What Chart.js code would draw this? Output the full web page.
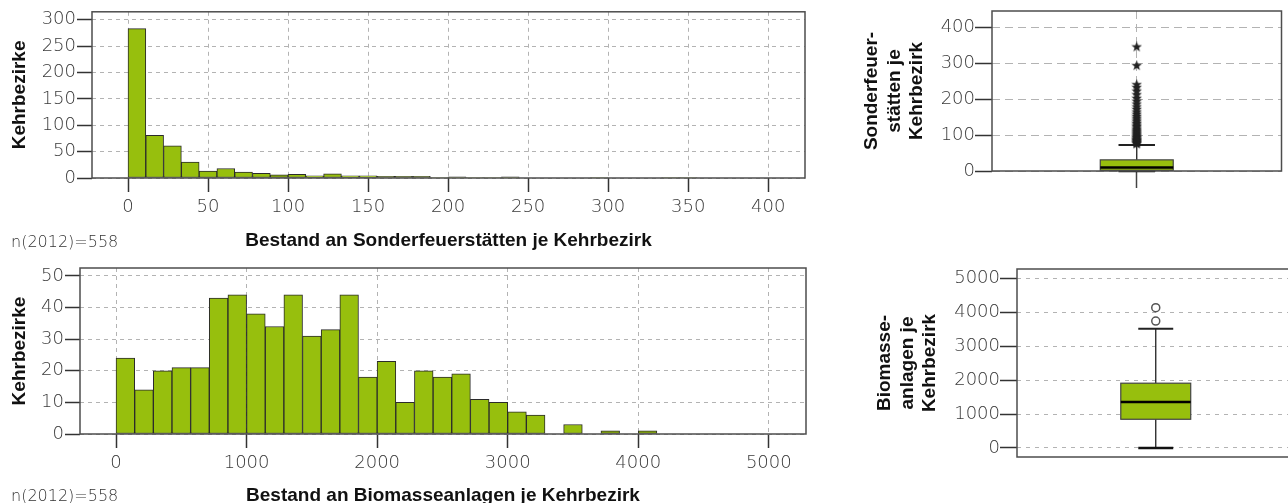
<!DOCTYPE html>
<html lang="de">
<head>
<meta charset="utf-8">
<script src="https://cdn.jsdelivr.net/npm/chart.js@4/dist/chart.umd.min.js"></script>
<style>
  html, body { margin: 0; padding: 0; background: #fff; overflow: hidden; width: 1288px; height: 503px; }
  canvas { position: absolute; }
  .note { position: absolute; left: 11px; font: 200 16px 'DejaVu Sans', sans-serif; line-height: 19px; color: #333; white-space: nowrap; }
</style>
</head>
<body>
<canvas id="histSonder" width="820" height="252" style="left:0;top:0"></canvas>
<canvas id="histBiomasse" width="820" height="262" style="left:0;top:252px"></canvas>
<canvas id="boxSonder" width="428" height="252" style="left:860px;top:0"></canvas>
<canvas id="boxBiomasse" width="440" height="251" style="left:860px;top:252px"></canvas>
<div class="note" style="top:232px">n(2012)=558</div>
<div class="note" style="top:486px">n(2012)=558</div>
<script>
// Histogram: Sonderfeuerstätten je Kehrbezirk (Klassenbreite 100/9)
const sonderBinWidth = 100 / 9;
const sonderCounts = [283, 81, 61, 30, 13, 18, 11, 9, 6, 7, 4, 8, 4, 4, 3, 3, 3, 1, 2, 1, 1, 2, 0, 0, 0, 0, 1, 0, 0, 0, 1, 1];
const sonderXTicks = [0, 50, 100, 150, 200, 250, 300, 350, 400];
const sonderYTicks = [0, 50, 100, 150, 200, 250, 300];

// Histogram: Biomasseanlagen je Kehrbezirk (Klassenbreite 1000/7)
const biomasseBinWidth = 1000 / 7;
const biomasseCounts = [24, 14, 20, 21, 21, 43, 44, 38, 34, 44, 31, 33, 44, 18, 23, 10, 20, 18, 19, 11, 10, 7, 6, 0, 3, 0, 1, 0, 1];
const biomasseXTicks = [0, 1000, 2000, 3000, 4000, 5000];
const biomasseYTicks = [0, 10, 20, 30, 40, 50];

// Boxplots: [unterer Whisker, Q1, Median, Q3, oberer Whisker]
const sonderBoxStats = [0, 2, 10, 31, 72];
const sonderOutliers = [75, 77, 79, 81, 83, 85, 87, 89, 92, 94, 97, 100, 103, 106, 109, 112, 116, 120, 124, 128,
  132, 137, 142, 147, 152, 158, 164, 171, 178, 186, 194, 202, 212, 222, 232, 240, 293, 345];
const sonderBoxTicks = [0, 100, 200, 300, 400];

const biomasseBoxStats = [0, 846, 1358, 1909, 3514];
const biomasseOutliers = [3740, 4134];
const biomasseBoxTicks = [0, 1000, 2000, 3000, 4000, 5000];

const GREEN = '#97bf0d';
const TICK_FONT = { family: "'DejaVu Sans', sans-serif", size: 18, weight: 200 };
const TITLE_FONT = { family: "'Liberation Sans', Arial, sans-serif", size: 19, weight: 'bold', lineHeight: 1.2 };
const TICK_COLOR = '#3a3a3a';
const GRID_COLOR = '#b3b3b3';

function fixedTicks(values) {
    return (scale) => { scale.ticks = values.map(v => ({ value: v })); };
}

function binsToPoints(counts, width) {
    return counts.map((c, i) => ({ x: (i + 0.5) * width, y: c }));
}

const framePlugin = {
    id: 'plotFrame',
    afterDatasetsDraw(chart) {
        const { ctx, chartArea: a } = chart;
        ctx.save();
        ctx.strokeStyle = '#4d4d4d';
        ctx.lineWidth = 1.5;
        ctx.strokeRect(a.left, a.top, a.right - a.left, a.bottom - a.top);
        ctx.restore();
    }
};
Chart.register(framePlugin);

const boxPlotPlugin = {
    id: 'boxPlot',
    beforeDatasetsDraw(chart, args, opts) {
        const { ctx } = chart;
        const xs = chart.scales.x, ys = chart.scales.y;
        const [lo, q1, med, q3, hi] = opts.stats;
        const cx = xs.getPixelForValue(0);
        const boxL = xs.getPixelForValue(-opts.boxHalf), boxR = xs.getPixelForValue(opts.boxHalf);
        const capL = xs.getPixelForValue(-opts.capHalf), capR = xs.getPixelForValue(opts.capHalf);
        const yLo = ys.getPixelForValue(lo), yQ1 = ys.getPixelForValue(q1);
        const yMed = ys.getPixelForValue(med), yQ3 = ys.getPixelForValue(q3);
        const yHi = ys.getPixelForValue(hi);

        ctx.save();
        ctx.strokeStyle = '#222';
        ctx.lineWidth = 1.3;
        ctx.beginPath();
        ctx.moveTo(cx, yHi); ctx.lineTo(cx, yQ3);
        ctx.moveTo(cx, yQ1); ctx.lineTo(cx, yLo);
        ctx.stroke();

        ctx.lineWidth = 2;
        ctx.beginPath();
        ctx.moveTo(capL, yHi); ctx.lineTo(capR, yHi);
        ctx.stroke();
        ctx.lineWidth = 2.5;
        ctx.strokeStyle = '#111';
        ctx.beginPath();
        ctx.moveTo(capL, yLo); ctx.lineTo(capR, yLo);
        ctx.stroke();

        ctx.fillStyle = GREEN;
        ctx.fillRect(boxL, yQ3, boxR - boxL, yQ1 - yQ3);
        ctx.strokeStyle = '#444';
        ctx.lineWidth = 1.2;
        ctx.strokeRect(boxL, yQ3, boxR - boxL, yQ1 - yQ3);

        ctx.strokeStyle = '#000';
        ctx.lineWidth = 2.5;
        ctx.beginPath();
        ctx.moveTo(boxL, yMed); ctx.lineTo(boxR, yMed);
        ctx.stroke();
        ctx.restore();
    }
};

function makeStar(size) {
    const c = document.createElement('canvas');
    c.width = c.height = size;
    const g = c.getContext('2d');
    const r = size / 2;
    g.fillStyle = '#222';
    g.beginPath();
    for (let i = 0; i < 10; i++) {
        const rad = i % 2 ? r * 0.42 : r;
        const a = -Math.PI / 2 + i * Math.PI / 5;
        g.lineTo(r + rad * Math.cos(a), r + rad * Math.sin(a));
    }
    g.closePath();
    g.fill();
    return c;
}

function histogram(id, cfg) {
    new Chart(document.getElementById(id), {
        type: 'bar',
        data: {
            datasets: [{
                data: binsToPoints(cfg.counts, cfg.binWidth),
                backgroundColor: GREEN,
                borderColor: '#2b2b2b',
                borderWidth: 1,
                borderSkipped: false,
                barPercentage: 1,
                categoryPercentage: 1
            }]
        },
        options: {
            responsive: false,
            animation: false,
            layout: { padding: cfg.padding },
            plugins: { legend: { display: false }, tooltip: { enabled: false } },
            scales: {
                x: {
                    type: 'linear',
                    offset: false,
                    min: cfg.xMin,
                    max: cfg.xMax,
                    afterBuildTicks: fixedTicks(cfg.xTicks),
                    afterFit: (s) => { s.height = cfg.xHeight; },
                    grid: { offset: false, color: GRID_COLOR, tickColor: '#333', tickWidth: 1.5, tickLength: 14, tickBorderDash: [] },
                    border: { display: false, dash: [4, 4] },
                    ticks: { font: TICK_FONT, color: TICK_COLOR, padding: 5, maxRotation: 0, minRotation: 0, autoSkip: false, callback: v => String(v) },
                    title: { display: true, text: cfg.xTitle, font: TITLE_FONT, color: '#111', padding: { top: 0, bottom: cfg.xTitlePad } }
                },
                y: {
                    min: 0,
                    max: cfg.yMax,
                    afterBuildTicks: fixedTicks(cfg.yTicks),
                    afterFit: (s) => { s.width = cfg.yWidth; },
                    grid: { color: GRID_COLOR, tickColor: '#333', tickWidth: 1.5, tickLength: 15, tickBorderDash: [] },
                    border: { display: false, dash: [4, 4] },
                    ticks: { font: TICK_FONT, color: TICK_COLOR, padding: 1, callback: v => String(v) },
                    title: { display: true, text: 'Kehrbezirke', font: TITLE_FONT, color: '#111', padding: { top: 8.5, bottom: 0 } }
                }
            }
        }
    });
}

function boxplot(id, cfg) {
    new Chart(document.getElementById(id), {
        type: 'scatter',
        data: {
            datasets: [{
                data: cfg.outliers.map(v => ({ x: 0, y: v })),
                pointStyle: cfg.pointStyle,
                pointRadius: cfg.pointRadius,
                backgroundColor: cfg.pointFill,
                borderColor: '#555',
                borderWidth: 1.5
            }]
        },
        plugins: [boxPlotPlugin],
        options: {
            responsive: false,
            animation: false,
            layout: { padding: cfg.padding },
            plugins: {
                legend: { display: false },
                tooltip: { enabled: false },
                boxPlot: { stats: cfg.stats, boxHalf: 0.252, capHalf: 0.126 }
            },
            scales: {
                x: {
                    type: 'linear',
                    min: -1,
                    max: 1,
                    afterBuildTicks: fixedTicks([0]),
                    afterFit: (s) => { s.height = cfg.xHeight; },
                    grid: { display: cfg.centerGrid, color: GRID_COLOR, tickColor: '#444', tickWidth: 1.5, tickLength: 17, tickBorderDash: [] },
                    border: { display: false, dash: cfg.dash },
                    ticks: { display: false }
                },
                y: {
                    min: cfg.yMin,
                    max: cfg.yMax,
                    afterBuildTicks: fixedTicks(cfg.yTicks),
                    afterFit: (s) => { s.width = cfg.yWidth; },
                    grid: { color: GRID_COLOR, tickColor: '#333', tickWidth: 1.5, tickLength: 17, tickBorderDash: [] },
                    border: { display: false, dash: cfg.dash },
                    ticks: { font: TICK_FONT, color: TICK_COLOR, padding: 0, callback: v => String(v) },
                    title: { display: true, text: cfg.yTitle, font: { ...TITLE_FONT, lineHeight: 1.18 }, color: '#111', padding: { top: cfg.yTitlePad, bottom: 0 } }
                }
            }
        }
    });
}

histogram('histSonder', {
    counts: sonderCounts, binWidth: sonderBinWidth,
    xTicks: sonderXTicks, yTicks: sonderYTicks,
    xMin: -22.5, xMax: 423, yMax: 315,
    padding: { top: 11, right: 15, left: 0, bottom: 0 },
    xHeight: 74, yWidth: 92, xTitlePad: 0,
    xTitle: 'Bestand an Sonderfeuerstätten je Kehrbezirk'
});

histogram('histBiomasse', {
    counts: biomasseCounts, binWidth: biomasseBinWidth,
    xTicks: biomasseXTicks, yTicks: biomasseYTicks,
    xMin: -276, xMax: 5285, yMax: 52.5,
    padding: { top: 16, right: 14, left: 0, bottom: 0 },
    xHeight: 80, yWidth: 80, xTitlePad: 6.5,
    xTitle: 'Bestand an Biomasseanlagen je Kehrbezirk'
});

boxplot('boxSonder', {
    stats: sonderBoxStats, outliers: sonderOutliers,
    pointStyle: makeStar(11), pointRadius: 5, pointFill: '#222',
    yTicks: sonderBoxTicks, yMin: 0, yMax: 445,
    padding: { top: 11, right: 5, left: 0, bottom: 0 },
    xHeight: 81, yWidth: 132, centerGrid: true, dash: [8, 5],
    yTitle: ['Sonderfeuer-', 'stätten je', 'Kehrbezirk'], yTitlePad: 1
});

boxplot('boxBiomasse', {
    stats: biomasseBoxStats, outliers: biomasseOutliers,
    pointStyle: 'circle', pointRadius: 4, pointFill: '#fff',
    yTicks: biomasseBoxTicks, yMin: -266, yMax: 5274,
    padding: { top: 17, right: 3, left: 0, bottom: 0 },
    xHeight: 46, yWidth: 157, centerGrid: false, dash: [4, 5],
    yTitle: ['Biomasse-', 'anlagen je', 'Kehrbezirk'], yTitlePad: 14
});
</script>
</body>
</html>
